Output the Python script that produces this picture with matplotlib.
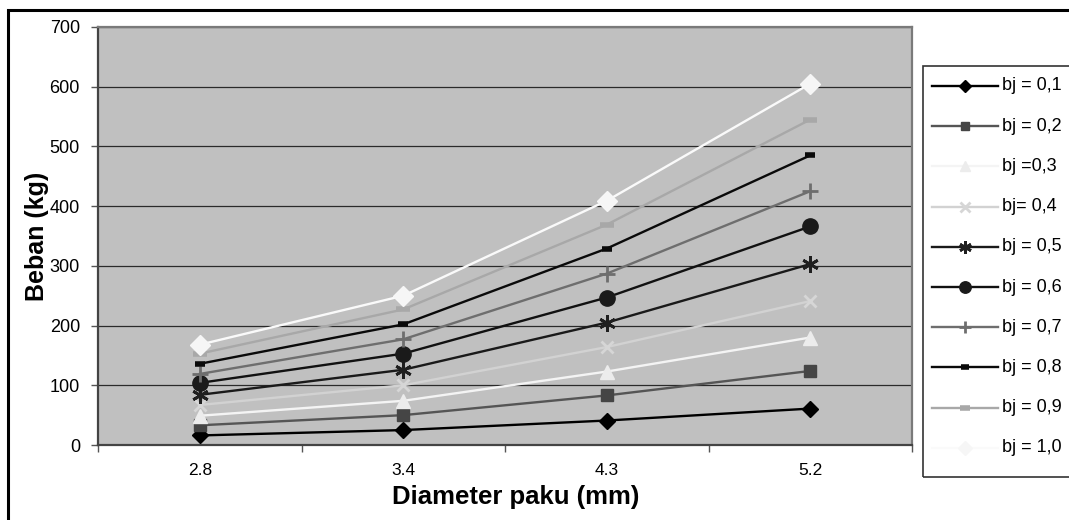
import matplotlib
matplotlib.use("Agg")
import matplotlib.pyplot as plt
from matplotlib.patches import Rectangle
from matplotlib.lines import Line2D

# Data: load (kg) per nail diameter for each specific gravity (bj)
diameters = ["2.8", "3.4", "4.3", "5.2"]
bj_labels = ["bj = 0,1", "bj = 0,2", "bj =0,3", "bj= 0,4", "bj = 0,5",
             "bj = 0,6", "bj = 0,7", "bj = 0,8", "bj = 0,9", "bj = 1,0"]
beban_01 = [16, 25, 41, 61]
beban_02 = [33, 50, 83, 124]
beban_03 = [49, 74, 123, 180]
beban_04 = [67, 100, 164, 241]
beban_05 = [84, 126, 205, 303]
beban_06 = [104, 153, 247, 366]
beban_07 = [119, 177, 287, 425]
beban_08 = [136, 202, 329, 485]
beban_09 = [153, 227, 369, 545]
beban_10 = [168, 250, 409, 605]
series = [beban_01, beban_02, beban_03, beban_04, beban_05,
          beban_06, beban_07, beban_08, beban_09, beban_10]
y_ticks = [0, 100, 200, 300, 400, 500, 600, 700]

# Line / marker styles per series
styles = [
    dict(color="#000000", marker="D", ms=8.5, mfc="#000000", mec="#000000", mew=1),
    dict(color="#555555", marker="s", ms=8.5, mfc="#454545", mec="#454545", mew=1),
    dict(color="#f4f4f4", marker="^", ms=10.5, mfc="#ececec", mec="#ececec", mew=1),
    dict(color="#d2d2d2", marker="x", ms=9, mfc="none", mec="#d6d6d6", mew=2),
    dict(color="#1a1a1a", marker=(6, 2, 0), ms=12, mfc="none", mec="#1f1f1f", mew=2),
    dict(color="#111111", marker="o", ms=11, mfc="#1a1a1a", mec="#1a1a1a", mew=1),
    dict(color="#6e6e6e", marker="+", ms=12, mfc="none", mec="#6e6e6e", mew=2),
    dict(color="#0a0a0a", marker="_", ms=7, mfc="#0a0a0a", mec="#0a0a0a", mew=4),
    dict(color="#a8a8a8", marker="_", ms=10, mfc="#a8a8a8", mec="#a8a8a8", mew=4),
    dict(color="#fafafa", marker="D", ms=10, mfc="#f6f6f6", mec="#f6f6f6", mew=1),
]

W, H = 1069, 520
fig = plt.figure(figsize=(W / 100, H / 100), dpi=100)
fig.patch.set_facecolor("white")

def fx(px):
    return px / W

def fy(py):
    return 1 - py / H

# outer chart border
fig.patches.append(Rectangle((fx(8), fy(1000)), fx(1200), fy(10) - fy(1000),
                             transform=fig.transFigure, fill=False,
                             edgecolor="black", lw=2.2, clip_on=False))

left, right, top, bottom = 98, 912, 27, 445
ax = fig.add_axes([fx(left), fy(bottom), fx(right - left), fy(top) - fy(bottom)])
ax.set_facecolor("#c0c0c0")

x = list(range(len(diameters)))
for vals, st in zip(series, styles):
    ax.plot(x, vals, color=st["color"], lw=1.7, marker=st["marker"],
            markersize=st["ms"], markerfacecolor=st["mfc"],
            markeredgecolor=st["mec"], markeredgewidth=st["mew"],
            clip_on=False, zorder=3)

ax.set_xlim(-0.5, len(diameters) - 0.5)
ax.set_ylim(0, 700)
ax.set_yticks(y_ticks)
ax.set_yticklabels([str(v) for v in y_ticks], fontsize=13, family="Liberation Sans")
ax.yaxis.grid(True, color="#2a2a2a", lw=0.9)
ax.set_axisbelow(True)
ax.tick_params(axis="y", length=5, width=1, color="#555555", pad=8)

ax.set_xticks([i - 0.5 for i in range(len(diameters) + 1)])
ax.set_xticklabels([])
ax.set_xticks(x, minor=True)
ax.set_xticklabels(diameters, minor=True, fontsize=12.5, family="Liberation Sans")
ax.tick_params(axis="x", which="major", length=5, width=1, color="#555555")
ax.tick_params(axis="x", which="minor", length=0, pad=13)

for s in ax.spines.values():
    s.set_color("#7a7a7a")
    s.set_linewidth(1.6)
ax.spines["left"].set_color("#444444")
ax.spines["bottom"].set_color("#444444")

fig.text(fx(37), fy(236), "Beban (kg)", rotation=90, ha="center", va="center",
         fontsize=18, fontweight="bold", family="Liberation Sans")
fig.text(fx(516), fy(497), "Diameter paku (mm)", ha="center", va="center",
         fontsize=18.5, fontweight="bold", family="Liberation Sans")

# legend box and entries
fig.patches.append(Rectangle((fx(923), fy(477)), fx(300), fy(66) - fy(477),
                             transform=fig.transFigure, fill=False,
                             edgecolor="#333333", lw=1.2, clip_on=False))
row0, step = 86, 40.2
for i, (lab, st) in enumerate(zip(bj_labels, styles)):
    yy = fy(row0 + i * step)
    fig.lines.append(Line2D([fx(932), fx(998)], [yy, yy], transform=fig.transFigure,
                            color=st["color"], lw=1.7))
    fig.lines.append(Line2D([fx(965)], [yy], transform=fig.transFigure, lw=0,
                            marker=st["marker"], markersize=st["ms"] * 0.75,
                            markerfacecolor=st["mfc"], markeredgecolor=st["mec"],
                            markeredgewidth=st["mew"]))
    fig.text(fx(1002), yy, lab, ha="left", va="center", fontsize=13,
             family="Liberation Sans")

fig.savefig("out.png", dpi=100)
